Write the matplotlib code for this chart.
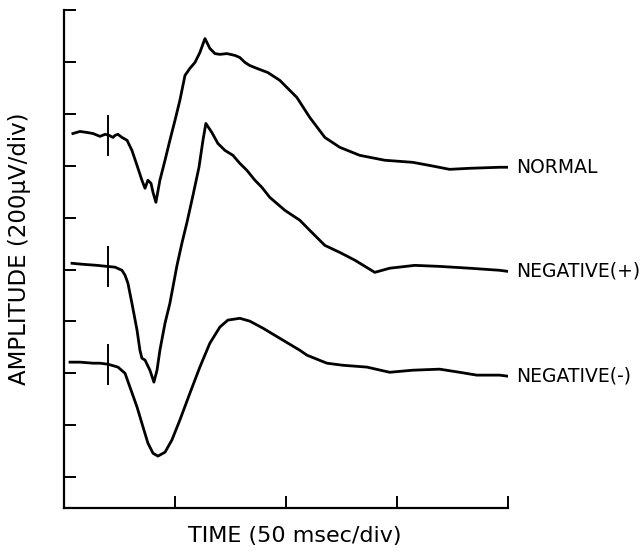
import matplotlib
matplotlib.use("Agg")
import matplotlib.pyplot as plt
import numpy as np

# time in msec, amplitude in microvolts (200 uV per division, 50 msec per division)
normal_t = [4.0, 7.2, 10.4, 13.1, 16.2, 18.5, 20.3, 22.1, 23.0, 24.3, 26.1, 28.4, 30.6,
            32.9, 35.1, 36.5, 37.8, 39.2, 40.1, 41.4, 43.2, 45.5, 47.7, 50.0, 52.2, 54.5,
            56.7, 59.0, 61.2, 63.5, 65.7, 68.0, 70.2, 73.4, 77.0, 79.2, 81.5, 83.7, 86.9,
            91.8, 97.2, 104.9, 110.7, 117.5, 124.2, 133.2, 144.5, 157.1, 164.7, 173.7,
            182.7, 196.2, 199.8]
normal_a = [1324, 1332, 1328, 1324, 1313, 1321, 1317, 1309, 1317, 1321, 1309, 1298, 1259,
            1201, 1144, 1113, 1144, 1132, 1097, 1059, 1144, 1221, 1298, 1375, 1452, 1548,
            1575, 1598, 1636, 1690, 1652, 1632, 1629, 1632, 1625, 1617, 1598, 1586, 1575,
            1559, 1529, 1463, 1386, 1309, 1271, 1240, 1221, 1213, 1201, 1186, 1190, 1194,
            1194]

neg_plus_t = [3.6, 8.6, 14.9, 19.4, 23.0, 26.1, 27.5, 28.8, 30.6, 32.9, 34.2, 35.1, 36.5,
              38.7, 40.5, 41.9, 43.2, 45.5, 47.7, 50.9, 53.1, 55.4, 58.1, 60.8, 62.6, 63.9,
              66.6, 69.3, 72.5, 76.1, 79.2, 82.4, 86.0, 89.1, 92.7, 99.5, 106.2, 110.7,
              117.5, 124.2, 131.0, 140.0, 146.7, 158.0, 169.2, 182.7, 196.2, 199.8]
neg_plus_a = [824, 820, 816, 812, 809, 797, 778, 747, 670, 566, 489, 458, 451, 412, 366,
              412, 489, 593, 670, 816, 901, 982, 1086, 1194, 1298, 1363, 1328, 1286, 1259,
              1240, 1209, 1182, 1144, 1117, 1078, 1028, 990, 951, 893, 866, 836, 789, 805,
              816, 812, 805, 797, 793]

neg_minus_t = [2.7, 7.2, 13.1, 16.2, 19.8, 24.3, 27.5, 29.7, 32.9, 35.6, 37.8, 40.1, 42.3,
               45.5, 48.6, 52.2, 56.7, 61.2, 65.7, 70.2, 73.8, 79.2, 83.7, 89.6, 97.2,
               106.2, 109.4, 118.4, 125.6, 136.4, 146.7, 157.1, 169.2, 178.2, 185.9, 196.2,
               199.8]
neg_minus_a = [443, 443, 439, 439, 435, 424, 400, 347, 270, 193, 131, 92, 81, 96, 143, 220,
               323, 424, 516, 578, 605, 612, 601, 574, 535, 489, 470, 439, 431, 424, 404,
               412, 416, 404, 393, 393, 389]

trace_labels = ["NORMAL", "NEGATIVE(+)", "NEGATIVE(-)"]
stim_time = 20      # msec, stimulus marker
stim_half = 75      # uV, half height of the marker

traces = [(normal_t, normal_a), (neg_plus_t, neg_plus_a), (neg_minus_t, neg_minus_a)]

fig = plt.figure(figsize=(6.42, 5.52), dpi=100)
ax = fig.add_axes([64 / 642, 44 / 552, 444 / 642, 498 / 552])

for (t, a), name in zip(traces, trace_labels):
    ax.plot(t, a, color="black", linewidth=2.0, solid_joinstyle="round")
    mid = np.interp(stim_time, t, a)
    ax.plot([stim_time, stim_time], [mid - stim_half, mid + stim_half],
            color="black", linewidth=1.4)
    ax.text(t[-1] + 4, a[-1], name, ha="left", va="center", fontsize=13.5,
            clip_on=False)

ax.set_xlim(0, 200)
ax.set_ylim(-119, 1800)
ax.set_xticks([50, 100, 150, 200])
ax.set_yticks(np.arange(0, 1801, 200))
ax.set_xticklabels([])
ax.set_yticklabels([])
ax.tick_params(direction="in", length=8.5, width=1.4, color="black")
for side in ("top", "right"):
    ax.spines[side].set_visible(False)
for side in ("left", "bottom"):
    ax.spines[side].set_linewidth(1.6)

ax.set_ylabel("AMPLITUDE (200\u03bcV/div)", fontsize=16.5)
ax.yaxis.set_label_coords(-0.074, 0.52)
ax.set_xlabel("TIME (50 msec/div)", fontsize=16)
ax.xaxis.set_label_coords(0.52, -0.036)

fig.savefig("out.png", dpi=100)
